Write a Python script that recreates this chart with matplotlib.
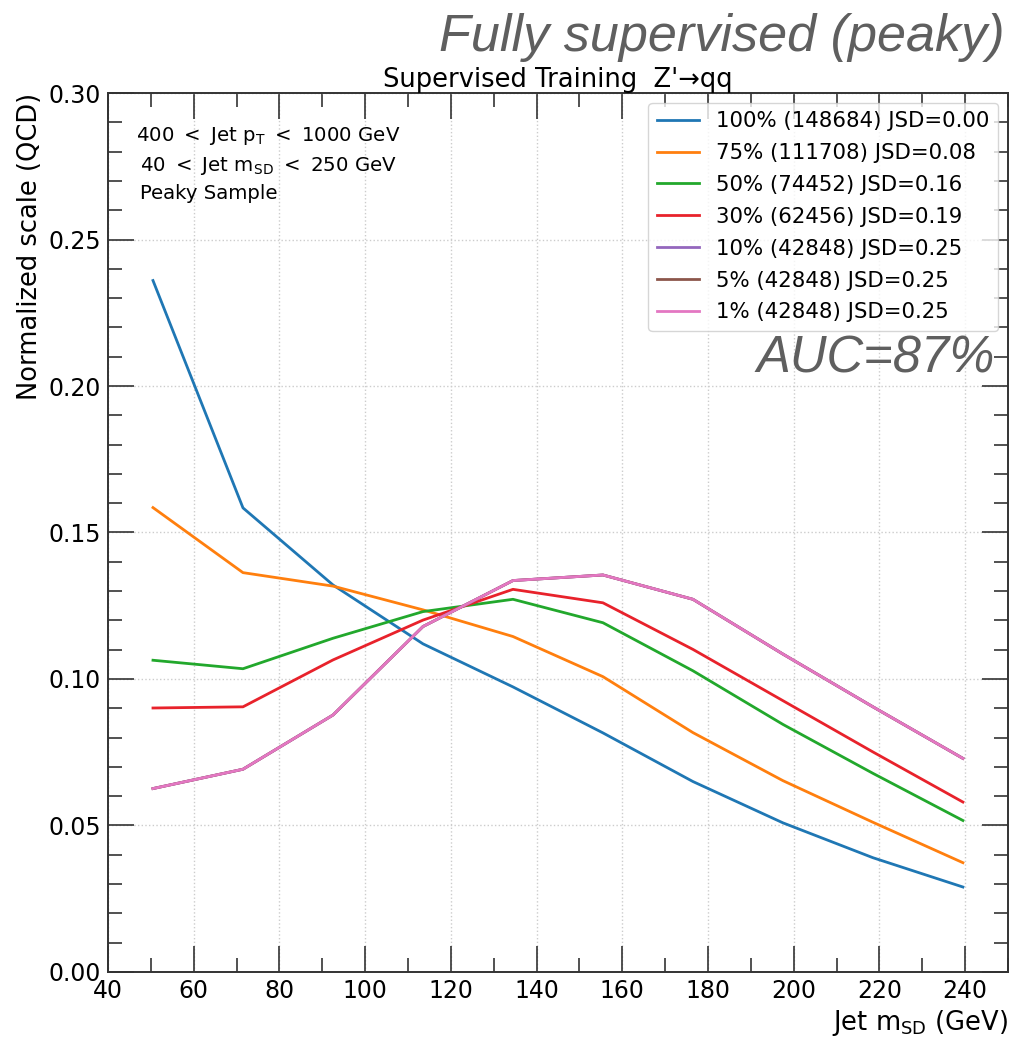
import matplotlib
matplotlib.use("Agg")
import matplotlib.pyplot as plt
from matplotlib.ticker import MultipleLocator

# soft-drop mass bin centres (GeV)
mass = [50.5, 71.5, 92.5, 113.5, 134.5, 155.5, 176.5, 197.5, 218.5, 239.5]

frac_100 = [0.236, 0.1584, 0.1321, 0.112, 0.0973, 0.0816, 0.065, 0.0509, 0.039, 0.029]
frac_75 = [0.1585, 0.1363, 0.1317, 0.1236, 0.1145, 0.1008, 0.0817, 0.0653, 0.0511, 0.0373]
frac_50 = [0.1064, 0.1035, 0.1139, 0.123, 0.1272, 0.1192, 0.1028, 0.0845, 0.0678, 0.0517]
frac_30 = [0.0901, 0.0905, 0.1065, 0.1201, 0.1306, 0.126, 0.1101, 0.0926, 0.0751, 0.058]
frac_10 = [0.0626, 0.0692, 0.0877, 0.1179, 0.1336, 0.1355, 0.1272, 0.1085, 0.0905, 0.0729]
frac_5 = frac_10
frac_1 = frac_10

labels = ["100% (148684) JSD=0.00", "75% (111708) JSD=0.08", "50% (74452) JSD=0.16",
          "30% (62456) JSD=0.19", "10% (42848) JSD=0.25", "5% (42848) JSD=0.25",
          "1% (42848) JSD=0.25"]
series = [frac_100, frac_75, frac_50, frac_30, frac_10, frac_5, frac_1]
colors = ["#1f77b4", "#ff7f0e", "#22a82c", "#e8222b", "#9467bd", "#8c564b", "#e377c2"]

fig = plt.figure(figsize=(10.14, 10.37), dpi=100)
ax = fig.add_axes([0.1065, 0.0627, 0.8875, 0.8476])

for y, lab, c in zip(series, labels, colors):
    ax.plot(mass, y, color=c, lw=2, label=lab)

ax.set_xlim(40, 250)
ax.set_ylim(0, 0.30)
ax.xaxis.set_major_locator(MultipleLocator(20))
ax.xaxis.set_minor_locator(MultipleLocator(10))
ax.yaxis.set_major_locator(MultipleLocator(0.05))
ax.yaxis.set_minor_locator(MultipleLocator(0.01))
ax.tick_params(which="both", direction="in", top=True, right=True, width=1.2,
               color="#333333", labelsize=17)
ax.tick_params(which="major", length=19, pad=5)
ax.tick_params(which="minor", length=10)
for s in ax.spines.values():
    s.set_linewidth(1.4)
    s.set_color("#333333")
ax.grid(which="major", color="#cccccc", linestyle=":", linewidth=1)

ax.set_xlabel(r"Jet $\mathregular{m_{SD}}$ (GeV)", fontsize=18.5, loc="right", labelpad=4)
ax.set_ylabel("Normalized scale (QCD)", fontsize=18.5, loc="top", labelpad=4)
ax.set_title("Supervised Training  Z'→qq", fontsize=18.5, pad=3)

ax.text(0.031, 0.964, r"400 $\mathregular{<}$ Jet $\mathregular{p_T}$ $\mathregular{<}$ 1000 GeV",
        transform=ax.transAxes, fontsize=14.2, va="top")
ax.text(0.036, 0.929, r"40 $\mathregular{<}$ Jet $\mathregular{m_{SD}}$ $\mathregular{<}$ 250 GeV",
        transform=ax.transAxes, fontsize=14.2, va="top")
ax.text(0.036, 0.896, "Peaky Sample", transform=ax.transAxes, fontsize=14.2, va="top")

ax.legend(loc="upper right", fontsize=15.3, handlelength=2.0, labelspacing=0.56,
          borderaxespad=0.45, framealpha=0.8, edgecolor="#cccccc")

ax.text(0.985, 0.697, "AUC=87%", transform=ax.transAxes, ha="right", va="center",
        fontsize=36.5, style="italic", color="#5f5f5f", family="Liberation Sans")
fig.text(0.991, 0.987, "Fully supervised (peaky)", ha="right", va="top",
         fontsize=37.5, style="italic", color="#5f5f5f", family="Liberation Sans")

fig.savefig("out.png", dpi=100)
